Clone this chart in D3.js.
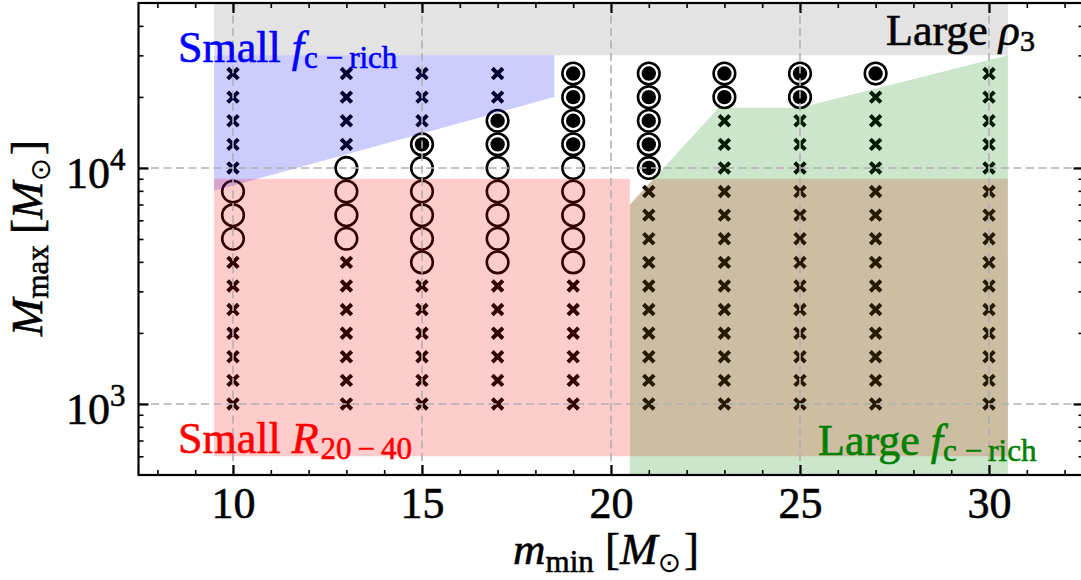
<!DOCTYPE html>
<html><head><meta charset="utf-8">
<script src="https://cdn.jsdelivr.net/npm/d3@7"></script>
<style>body{margin:0;background:#fff} svg{display:block}</style>
</head><body><svg id="c" width="1081" height="580"></svg>
<script>
// ---- data ----
const mminValues = [10, 13, 15, 17, 19, 21, 23, 25, 27, 30];
const mmaxValues = [1000, 1259, 1585, 1995, 2512, 3162, 3981, 5012, 6310, 7943, 10000, 12589, 15849, 19953, 25119];
// per column (m_min), from bottom (1000) to top (25119): x = cross, o = open circle, f = filled circle
const outcomes = [
  "xxxxxxxoooxxxxx", // 10
  "xxxxxxxooooxxxx", // 13
  "xxxxxxooooofxxx", // 15
  "xxxxxxoooooffxx", // 17
  "xxxxxxoooooffff", // 19
  "xxxxxxxxxxfffff", // 21
  "xxxxxxxxxxxxxff", // 23
  "xxxxxxxxxxxxxff", // 25
  "xxxxxxxxxxxxxxf", // 27
  "xxxxxxxxxxxxxxx"  // 30
];
const grayRegion  = [[9.5, 30000], [30.5, 30000], [30.5, 80000], [9.5, 80000]];
const blueRegion  = [[9.5, 30000], [18.5, 30000], [18.5, 20000], [9.5, 8000]];
const redRegion   = [[9.5, 600], [9.5, 9000], [20.5, 9000], [20.5, 7000], [21.13, 9000], [30.5, 9000], [30.5, 600]];
const greenRegion = [[20.5, 300], [20.5, 7000], [22.85, 18000], [25, 18000], [30.5, 30000], [30.5, 300]];
const xMajorTicks = [10, 15, 20, 25, 30];
const xMinorTicks = [8, 9, 11, 12, 13, 14, 16, 17, 18, 19, 21, 22, 23, 24, 26, 27, 28, 29, 31, 32];
const yMajorTicks = [1000, 10000];
const yMajorLabels = [["10", "3"], ["10", "4"]];
const yMinorTicks = [600, 700, 800, 900, 2000, 3000, 4000, 5000, 6000, 7000, 8000, 9000, 20000, 30000, 40000];

// ---- layout ----
const L = 138.5, R = 1083.5, T = 3, B = 475;
const x = d3.scaleLinear().domain([7.5, 32.5]).range([L, R]);
const y = d3.scaleLog().domain([500, 50000]).range([B, T]);
const FONT = "Liberation Serif, Times New Roman, serif";
const TS = 0.6; // text stroke to mimic heavier glyphs

const svg = d3.select("#c");
svg.append("rect").attr("width", 1081).attr("height", 580).attr("fill", "#fff");
svg.append("defs").append("clipPath").attr("id", "clip")
  .append("rect").attr("x", L).attr("y", T).attr("width", R - L).attr("height", B - T);
const plot = svg.append("g").attr("clip-path", "url(#clip)");

// ---- markers ----
const pts = [];
mminValues.forEach((m, i) => {
  mmaxValues.forEach((M, j) => pts.push({m, M, k: outcomes[i][j]}));
});
const mk = plot.append("g");
const cs = 5.3;
mk.selectAll("path.cross").data(pts.filter(d => d.k === "x")).join("path")
  .attr("class", "cross")
  .attr("d", d => { const cx = x(d.m), cy = y(d.M);
    return `M${cx-cs},${cy-cs}L${cx+cs},${cy+cs}M${cx-cs},${cy+cs}L${cx+cs},${cy-cs}`; })
  .attr("stroke", "#000").attr("stroke-width", 4).attr("fill", "none");
mk.selectAll("circle.ring").data(pts.filter(d => d.k !== "x")).join("circle")
  .attr("class", "ring")
  .attr("cx", d => x(d.m)).attr("cy", d => y(d.M)).attr("r", 10.8)
  .attr("fill", "none").attr("stroke", "#000").attr("stroke-width", 2.6);
mk.selectAll("circle.dot").data(pts.filter(d => d.k === "f")).join("circle")
  .attr("class", "dot")
  .attr("cx", d => x(d.m)).attr("cy", d => y(d.M)).attr("r", 7.2)
  .attr("fill", "#000");

// ---- shaded regions (drawn over markers, alpha) ----
const line = d3.line().x(d => x(d[0])).y(d => y(d[1]));
const poly = pts => line(pts) + "Z";
plot.append("path").attr("d", poly(grayRegion)).attr("fill", "#000").attr("fill-opacity", 0.11);
plot.append("path").attr("d", poly(blueRegion)).attr("fill", "#0000ff").attr("fill-opacity", 0.2);
plot.append("path").attr("d", poly(redRegion)).attr("fill", "#ff0000").attr("fill-opacity", 0.2);
plot.append("path").attr("d", poly(greenRegion)).attr("fill", "#008000").attr("fill-opacity", 0.2);

// ---- grid ----
const grid = plot.append("g").attr("stroke", "#b0b0b0").attr("stroke-width", 1.6).attr("stroke-dasharray", "8,4.5");
grid.selectAll("line.gx").data(xMajorTicks).join("line").attr("class", "gx")
  .attr("x1", d => x(d)).attr("x2", d => x(d)).attr("y1", T).attr("y2", B);
grid.selectAll("line.gy").data(yMajorTicks).join("line").attr("class", "gy")
  .attr("y1", d => y(d)).attr("y2", d => y(d)).attr("x1", L).attr("x2", R);

// ---- annotations ----
function rich(g, x0, y0, color, parts, anchor) {
  const t = g.append("text").attr("x", x0).attr("y", y0).attr("fill", color)
    .attr("stroke", color).attr("stroke-width", TS)
    .attr("font-family", FONT).attr("font-size", 44).attr("text-anchor", anchor || "start");
  parts.forEach(p => {
    const s = t.append("tspan").text(p.t);
    if (p.i) s.attr("font-style", "italic");
    if (p.s) s.attr("font-size", p.s);
    if (p.dy) s.attr("dy", p.dy);
    if (p.dx) s.attr("dx", p.dx);
  });
  return t;
}
const ann = svg.append("g");
rich(ann, 178, 62, "#0000ff", [{t: "Small "}, {t: "f", i: 1}, {t: "c", s: 31, dy: 6}, {t: "\u2212", s: 31, dx: 8}, {t: "rich", s: 31, dx: 6}]);
rich(ann, 886, 45, "#000", [{t: "Large "}, {t: "\u03c1", i: 1}, {t: "3", s: 30, dy: 6}]);
rich(ann, 178, 453, "#ff0000", [{t: "Small "}, {t: "R", i: 1}, {t: "20", s: 31, dy: 6, dx: 2}, {t: "\u2212", s: 31, dx: 6}, {t: "40", s: 31, dx: 6}]);
rich(ann, 818, 455, "#008000", [{t: "Large "}, {t: "f", i: 1}, {t: "c", s: 31, dy: 6}, {t: "\u2212", s: 31, dx: 8}, {t: "rich", s: 31, dx: 6}]);

// ---- axes ----
function styleAxis(g) {
  g.select(".domain").remove();
  g.selectAll(".tick line").attr("stroke", "#000");
  g.selectAll("text").attr("font-family", FONT).attr("fill", "#000").attr("stroke", "#000").attr("stroke-width", TS);
}
// bottom
const ab = svg.append("g").attr("transform", `translate(0,${B})`)
  .call(d3.axisBottom(x).tickValues(xMajorTicks).tickSizeInner(-10).tickSizeOuter(0).tickPadding(12).tickFormat(d3.format("d")));
styleAxis(ab); ab.selectAll(".tick line").attr("stroke-width", 2.2);
ab.selectAll("text").attr("font-size", 44);
svg.append("g").attr("transform", `translate(0,${B})`)
  .call(d3.axisBottom(x).tickValues(xMinorTicks).tickSizeInner(-5).tickSizeOuter(0).tickFormat(""))
  .call(styleAxis).selectAll(".tick line").attr("stroke-width", 1.6);
// top
svg.append("g").attr("transform", `translate(0,${T})`)
  .call(d3.axisTop(x).tickValues(xMajorTicks).tickSizeInner(-10).tickSizeOuter(0).tickFormat(""))
  .call(styleAxis).selectAll(".tick line").attr("stroke-width", 2.2);
svg.append("g").attr("transform", `translate(0,${T})`)
  .call(d3.axisTop(x).tickValues(xMinorTicks).tickSizeInner(-5).tickSizeOuter(0).tickFormat(""))
  .call(styleAxis).selectAll(".tick line").attr("stroke-width", 1.6);
// left
const al = svg.append("g").attr("transform", `translate(${L},0)`)
  .call(d3.axisLeft(y).tickValues(yMajorTicks).tickSizeInner(-10).tickSizeOuter(0).tickPadding(13).tickFormat(""));
styleAxis(al); al.selectAll(".tick line").attr("stroke-width", 2.2);
al.selectAll(".tick text").each(function(d, i) {
  const t = d3.select(this).attr("font-size", 44).attr("dy", null).attr("y", 20).attr("x", -13);
  t.text(null);
  t.append("tspan").text(yMajorLabels[i][0]);
  t.append("tspan").text(yMajorLabels[i][1]).attr("font-size", 31).attr("dy", -18);
});
svg.append("g").attr("transform", `translate(${L},0)`)
  .call(d3.axisLeft(y).tickValues(yMinorTicks).tickSizeInner(-5).tickSizeOuter(0).tickFormat(""))
  .call(styleAxis).selectAll(".tick line").attr("stroke-width", 1.6);
// right
svg.append("g").attr("transform", `translate(${R},0)`)
  .call(d3.axisRight(y).tickValues(yMajorTicks).tickSizeInner(-10).tickSizeOuter(0).tickFormat(""))
  .call(styleAxis).selectAll(".tick line").attr("stroke-width", 2.2);
svg.append("g").attr("transform", `translate(${R},0)`)
  .call(d3.axisRight(y).tickValues(yMinorTicks).tickSizeInner(-5).tickSizeOuter(0).tickFormat(""))
  .call(styleAxis).selectAll(".tick line").attr("stroke-width", 1.6);

// frame
svg.append("rect").attr("x", L).attr("y", T).attr("width", R - L).attr("height", B - T)
  .attr("fill", "none").attr("stroke", "#000").attr("stroke-width", 2.2);

// axis labels
const xl = svg.append("text").attr("x", 606).attr("y", 564).attr("text-anchor", "middle")
  .attr("font-family", FONT).attr("font-size", 45).attr("fill", "#000").attr("stroke", "#000").attr("stroke-width", TS);
xl.append("tspan").text("m").attr("font-style", "italic");
xl.append("tspan").text("min").attr("font-size", 31).attr("dy", 8);
xl.append("tspan").text(" [").attr("dy", -8);
xl.append("tspan").text("M").attr("font-style", "italic");
xl.append("tspan").text("\u2299").attr("font-size", 28).attr("dy", 8).attr("font-family", "DejaVu Sans, sans-serif").attr("stroke-width", 0);
xl.append("tspan").text("]").attr("dy", -8).attr("dx", 3);

const yl = svg.append("text").attr("transform", "translate(42,238) rotate(-90)").attr("text-anchor", "middle")
  .attr("font-family", FONT).attr("font-size", 45).attr("fill", "#000").attr("stroke", "#000").attr("stroke-width", TS);
yl.append("tspan").text("M").attr("font-style", "italic");
yl.append("tspan").text("max").attr("font-size", 31).attr("dy", 6);
yl.append("tspan").text(" [").attr("dy", -6);
yl.append("tspan").text("M").attr("font-style", "italic");
yl.append("tspan").text("\u2299").attr("font-size", 28).attr("dy", 8).attr("font-family", "DejaVu Sans, sans-serif").attr("stroke-width", 0);
yl.append("tspan").text("]").attr("dy", -8).attr("dx", 3);
</script></body></html>
